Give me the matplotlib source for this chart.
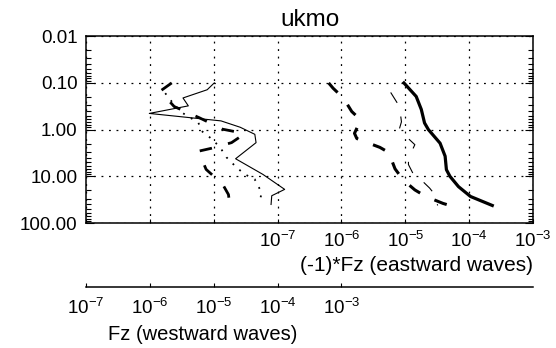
import numpy as np
import matplotlib
matplotlib.use('Agg')
import matplotlib.pyplot as plt
from matplotlib.ticker import LogLocator, NullLocator, NullFormatter

plt.rcParams['font.family'] = ['Liberation Sans', 'DejaVu Sans']
plt.rcParams['mathtext.fontset'] = 'custom'
plt.rcParams['mathtext.rm'] = 'Liberation Sans'
plt.rcParams['mathtext.it'] = 'Liberation Sans'

# westward waves, Fz (lower axis)
p_w_solid = [0.10, 0.14, 0.21, 0.31, 0.45, 0.65, 0.89, 1.26, 1.9, 4.2, 9.1, 19, 26, 40]
fz_w_solid = [1.02e-5, 7.9e-6, 3.3e-6, 4.0e-6, 9.8e-7, 1.3e-5, 2.6e-5, 4.4e-5, 4.6e-5,
              2.2e-5, 5.9e-5, 1.29e-4, 8.1e-5, 7.9e-5]

p_w_dot = [0.166, 0.28, 0.43, 0.71, 1.07, 1.58, 2.4, 3.9, 6.5, 9.1, 11.5, 22, 37]
fz_w_dot = [1.74e-6, 2.34e-6, 3.16e-6, 5.75e-6, 6.46e-6, 9.3e-6, 1.26e-5, 1.58e-5,
            2.29e-5, 3.09e-5, 4.37e-5, 5.6e-5, 5.25e-5]

p_w_dash = [0.10, 0.15, 0.32, 0.56, 0.76, 0.98, 1.2, 1.35, 1.9, 2.5, 2.9, 7.1, 14.8, 24.5, 40]
fz_w_dash = [2.2e-6, 1.45e-6, 2.4e-6, 6.0e-6, 9.5e-6, 1.38e-5, 2.95e-5, 2.75e-5, 1.9e-5,
             9.3e-6, 5.75e-6, 7.6e-6, 1.38e-5, 1.7e-5, 1.78e-5]

# eastward waves, (-1)*Fz (upper axis)
p_e_solid = [0.10, 0.195, 0.37, 0.72, 1.0, 1.95, 3.7, 7.2, 10, 16.6, 27, 42]
fz_e_solid = [9.5e-6, 1.48e-5, 1.78e-5, 2.0e-5, 2.3e-5, 3.5e-5, 4.2e-5, 4.4e-5, 5.0e-5,
              6.8e-5, 1.05e-4, 2.3e-4]

p_e_dash = [0.10, 0.13, 0.21, 0.41, 0.62, 1.2, 1.55, 1.8, 2.4, 3.3, 5.0, 6.9, 12, 19.5, 27, 38, 45]
fz_e_dash = [6.3e-7, 7.4e-7, 1.07e-6, 1.45e-6, 2.0e-6, 1.6e-6, 1.74e-6, 2.3e-6, 4.0e-6,
             6.0e-6, 6.3e-6, 6.9e-6, 9.3e-6, 1.41e-5, 2.1e-5, 3.9e-5, 5.9e-5]

p_e_thin = [0.16, 0.32, 0.68, 0.95, 1.23, 2.1, 4.1, 5.6, 8.7, 12, 17.8, 26, 42]
fz_e_thin = [5.9e-6, 8.1e-6, 8.7e-6, 8.1e-6, 9.3e-6, 1.41e-5, 1.12e-5, 1.12e-5, 1.32e-5,
             1.78e-5, 2.4e-5, 3.0e-5, 3.2e-5]

upper_ticks = [1e-10, 1e-9, 1e-8, 1e-7, 1e-6, 1e-5, 1e-4, 1e-3]
upper_labels = ['', '', '', '$10^{-7}$', '$10^{-6}$', '$10^{-5}$', '$10^{-4}$', '$10^{-3}$']
lower_ticks = [1e-7, 1e-6, 1e-5, 1e-4, 1e-3]
lower_labels = ['$10^{-7}$', '$10^{-6}$', '$10^{-5}$', '$10^{-4}$', '$10^{-3}$']
p_ticks = [0.01, 0.1, 1, 10, 100]
p_labels = ['0.01', '0.10', '1.00', '10.00', '100.00']

fig = plt.figure(figsize=(5.56, 3.48), dpi=100)
ax = fig.add_axes([0.1547, 0.359, 0.804, 0.537])

ax.set_xscale('log')
ax.set_yscale('log')
ax.set_xlim(1e-10, 1e-3)
ax.set_ylim(100, 0.01)

grid_ls = (0, (1.5, 4.5))
ax.grid(True, which='major', color='k', lw=0.9, ls=grid_ls)

ax.set_xticks(upper_ticks)
ax.set_xticklabels(upper_labels, fontsize=13.5)
ax.xaxis.set_minor_locator(NullLocator())
ax.set_yticks(p_ticks)
ax.set_yticklabels(p_labels, fontsize=13.5)
ax.yaxis.set_minor_locator(LogLocator(base=10, subs=np.arange(2, 10)))
ax.yaxis.set_minor_formatter(NullFormatter())
ax.tick_params(axis='x', which='major', direction='in', length=3, width=0.8,
               top=True, pad=5.5)
ax.tick_params(axis='y', which='major', direction='in', length=6, width=0.8,
               right=True, pad=6)
ax.tick_params(axis='y', which='minor', direction='in', length=3.5, width=0.8,
               right=True)
for s in ax.spines.values():
    s.set_linewidth(1.1)

ax.plot(fz_e_solid, p_e_solid, color='k', lw=2.3)
ax.plot(fz_e_dash, p_e_dash, color='k', lw=2.2, ls=(0, (4.3, 5.2)))
ax.plot(fz_e_thin, p_e_thin, color='k', lw=0.8, ls=(0, (11, 13)))

ax.set_xlabel('(-1)*Fz (eastward waves)', fontsize=15, ha='right', va='center')
ax.xaxis.set_label_coords(1.0, -0.225)
ax.set_title('ukmo', fontsize=17.5, pad=7)

# westward waves on a second log axis drawn below
ax2 = ax.twiny()
ax2.set_xscale('log')
ax2.set_xlim(1e-7, 1)
ax2.xaxis.set_ticks_position('bottom')
ax2.xaxis.set_label_position('bottom')
ax2.spines['bottom'].set_position(('outward', 46))
for side in ['top', 'left', 'right']:
    ax2.spines[side].set_visible(False)
ax2.spines['bottom'].set_linewidth(1.1)
ax2.set_xticks(lower_ticks)
ax2.set_xticklabels(lower_labels, fontsize=13.5)
ax2.xaxis.set_minor_locator(NullLocator())
ax2.tick_params(axis='x', which='major', direction='in', length=3, width=0.8, pad=8)

ax2.plot(fz_w_solid, p_w_solid, color='k', lw=0.8)
ax2.plot(fz_w_dot, p_w_dot, color='k', lw=1.3, ls=(0, (1, 4)))
ax2.plot(fz_w_dash, p_w_dash, color='k', lw=2.0, ls=(0, (4.5, 6)))

ax2.set_xlabel('Fz (westward waves)', fontsize=14.5, ha='center', va='center')
ax2.xaxis.set_label_coords(0.26, -0.595)

fig.savefig('out.png', dpi=100)
